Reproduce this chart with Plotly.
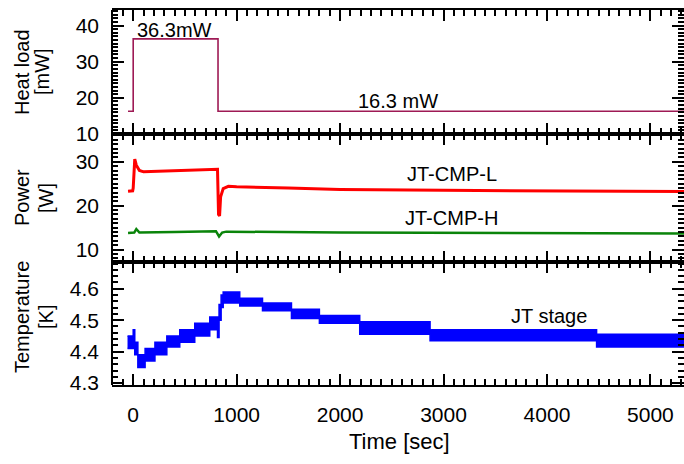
import plotly.graph_objects as go
from plotly.subplots import make_subplots

# ---- data ----
heat_t = [-50, 0, 820, 5325]
heat_mw = [16.3, 36.3, 16.3, 16.3]

cmp_l_t = [-50, -5, 0, 15, 30, 60, 100, 200, 400, 600, 800, 815, 825, 835, 845, 870, 920, 1000, 1500, 2000, 3000, 4000, 5325]
cmp_l_w = [23.3, 23.4, 24.0, 30.6, 29.2, 28.0, 27.7, 27.8, 28.0, 28.2, 28.4, 28.3, 18.0, 17.7, 22.0, 23.9, 24.4, 24.3, 24.0, 23.7, 23.5, 23.3, 23.2]

cmp_h_t = [-50, 10, 30, 60, 400, 800, 830, 860, 900, 2000, 5325]
cmp_h_w = [13.8, 13.9, 14.7, 13.9, 14.0, 14.2, 13.0, 13.9, 14.1, 13.9, 13.7]

temp_t = [-55, 0, 15, 45, 115, 210, 325, 450, 595, 740, 815, 830, 850, 870, 1030, 1250, 1530, 1800, 2190, 2870, 4480, 5325]
temp_hi = [4.45, 4.47, 4.43, 4.39, 4.41, 4.43, 4.45, 4.47, 4.49, 4.51, 4.51, 4.55, 4.58, 4.59, 4.57, 4.555, 4.535, 4.515, 4.495, 4.47, 4.455, 4.455]
temp_lo = [4.41, 4.41, 4.39, 4.35, 4.37, 4.39, 4.415, 4.43, 4.45, 4.47, 4.445, 4.50, 4.54, 4.555, 4.545, 4.53, 4.505, 4.49, 4.455, 4.435, 4.415, 4.415]

x_ticks = [0, 1000, 2000, 3000, 4000, 5000]

FONT = "Liberation Sans, Arial, sans-serif"

fig = make_subplots(rows=3, cols=1, shared_xaxes=True, vertical_spacing=0)

fig.add_trace(go.Scatter(x=heat_t, y=heat_mw, mode="lines", line=dict(color="#9e1a55", width=1.6, shape="hv"),
                         showlegend=False), row=1, col=1)
fig.add_trace(go.Scatter(x=cmp_l_t, y=cmp_l_w, mode="lines", line=dict(color="#ff0000", width=3),
                         showlegend=False), row=2, col=1)
fig.add_trace(go.Scatter(x=cmp_h_t, y=cmp_h_w, mode="lines", line=dict(color="#0a840a", width=2.5),
                         showlegend=False), row=2, col=1)
fig.add_trace(go.Scatter(x=temp_t, y=temp_lo, mode="lines", line=dict(color="#0000ff", width=1.5, shape="hv"),
                         showlegend=False), row=3, col=1)
fig.add_trace(go.Scatter(x=temp_t, y=temp_hi, mode="lines", line=dict(color="#0000ff", width=1.5, shape="hv"),
                         fill="tonexty", fillcolor="#0000ff", showlegend=False), row=3, col=1)

H_PLOT = 375.0
W_PLOT = 572.0
domains = {1: [251 / H_PLOT, 1.0], 2: [123 / H_PLOT, 251 / H_PLOT], 3: [0.0, 123 / H_PLOT]}
yranges = {1: [10, 44.3], 2: [7.2, 36.3], 3: [4.294, 4.685]}
ydticks = {1: 10, 2: 10, 3: 0.1}
yminor = {1: 1, 2: 1, 3: 0.02}
ytick0 = {1: 10, 2: 10, 3: 4.3}

for r in (1, 2, 3):
    fig.update_xaxes(row=r, col=1, range=[-205, 5325], tickmode="array", tickvals=x_ticks,
                     ticks="inside", ticklen=11, tickwidth=2, tickcolor="black",
                     showline=True, linewidth=2, linecolor="black", mirror="ticks",
                     showgrid=False, zeroline=False,
                     minor=dict(dtick=100, tick0=0, ticks="inside", ticklen=6, tickwidth=1.5, tickcolor="black", showgrid=False),
                     showticklabels=(r == 3), tickfont=dict(family=FONT, size=21, color="black"),
                     ticklabelstandoff=10)
    fig.update_yaxes(row=r, col=1, range=yranges[r], domain=domains[r], tick0=ytick0[r], dtick=ydticks[r],
                     ticks="inside", ticklen=12, tickwidth=2, tickcolor="black",
                     showline=False, mirror="ticks",
                     showgrid=False, zeroline=False,
                     minor=dict(dtick=yminor[r], tick0=ytick0[r], ticks="inside", ticklen=6, tickwidth=1.5, tickcolor="black", showgrid=False),
                     tickfont=dict(family=FONT, size=21, color="black"), ticklabelstandoff=12)

fig.update_yaxes(row=3, col=1, tickformat=".1f")

ann_font = dict(family=FONT, size=20, color="black")
title_font = dict(family=FONT, size=20, color="black")


def px_x(p):
    return (p - 112) / W_PLOT


def px_y(p):
    return (385 - p) / H_PLOT


annotations = [
    dict(x=400, y=38.9, xref="x", yref="y", text="36.3mW", showarrow=False, font=ann_font),
    dict(x=2560, y=19.0, xref="x", yref="y", text="16.3 mW", showarrow=False, font=ann_font),
    dict(x=3080, y=27.3, xref="x2", yref="y2", text="JT-CMP-L", showarrow=False, font=ann_font),
    dict(x=3080, y=17.3, xref="x2", yref="y2", text="JT-CMP-H", showarrow=False, font=ann_font),
    dict(x=4020, y=4.513, xref="x3", yref="y3", text="JT stage", showarrow=False, font=ann_font),
    dict(x=px_x(22), y=px_y(72), xref="paper", yref="paper", text="Heat load",
         textangle=-90, showarrow=False, font=title_font, xanchor="center", yanchor="middle"),
    dict(x=px_x(42), y=px_y(72), xref="paper", yref="paper", text="[mW]",
         textangle=-90, showarrow=False, font=title_font, xanchor="center", yanchor="middle"),
    dict(x=px_x(22), y=px_y(198), xref="paper", yref="paper", text="Power",
         textangle=-90, showarrow=False, font=title_font, xanchor="center", yanchor="middle"),
    dict(x=px_x(46), y=px_y(198), xref="paper", yref="paper", text="[W]",
         textangle=-90, showarrow=False, font=title_font, xanchor="center", yanchor="middle"),
    dict(x=px_x(22), y=px_y(317), xref="paper", yref="paper", text="Temperature",
         textangle=-90, showarrow=False, font=title_font, xanchor="center", yanchor="middle"),
    dict(x=px_x(46), y=px_y(317), xref="paper", yref="paper", text="[K]",
         textangle=-90, showarrow=False, font=title_font, xanchor="center", yanchor="middle"),
    dict(x=px_x(399), y=px_y(442), xref="paper", yref="paper", text="Time [sec]",
         showarrow=False, font=dict(family=FONT, size=22, color="black"), xanchor="center", yanchor="middle"),
]

fig.update_layout(
    width=684, height=464,
    margin=dict(l=112, r=0, t=10, b=79),
    paper_bgcolor="white", plot_bgcolor="white",
    font=dict(family=FONT, color="black"),
    annotations=annotations,
    shapes=[dict(type="line", xref="paper", yref="paper", x0=0, x1=0, y0=0, y1=1,
                 line=dict(color="black", width=2))],
    showlegend=False,
)

fig.write_html("out.html")
